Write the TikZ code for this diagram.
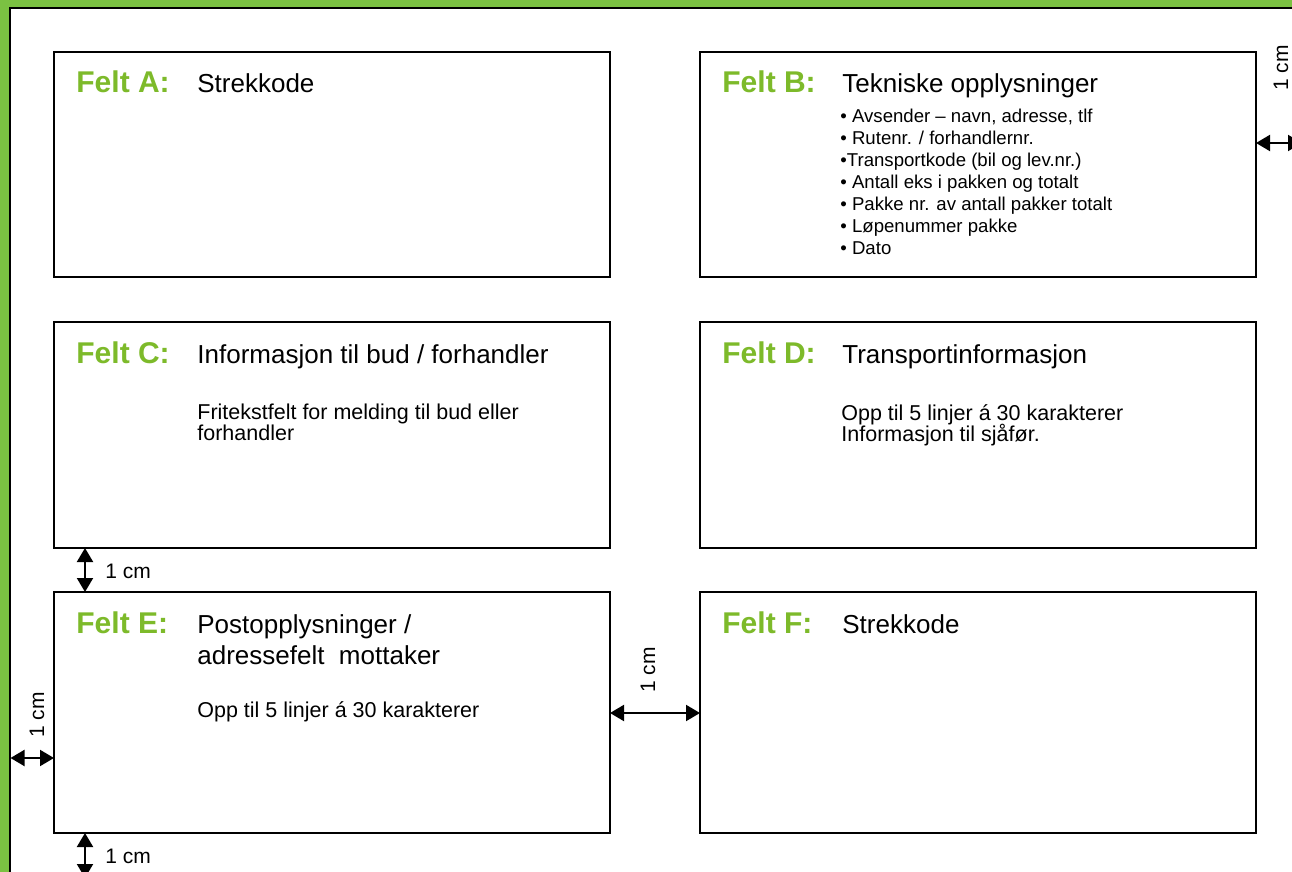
\documentclass[tikz,border=0pt]{standalone}
\usepackage{fontspec}
\setmainfont{Liberation Sans}
\usetikzlibrary{arrows.meta}
\definecolor{framegreen}{RGB}{123,193,66}
\definecolor{feltgreen}{RGB}{125,186,42}
\begin{document}
\begin{tikzpicture}[x=0.5pt,y=-0.5pt,
 box/.style={draw=black,line width=1.1pt,anchor=north west,inner sep=0pt,outer sep=0pt,minimum width=278pt},
 felt/.style={anchor=base west,inner sep=0pt,text=feltgreen,font=\fontsize{15}{18}\selectfont\bfseries},
 title/.style={anchor=base west,inner sep=0pt,font=\fontsize{13}{16}\selectfont},
 body/.style={anchor=base west,inner sep=0pt,font=\fontsize{10.75}{13}\selectfont},
 bul/.style={anchor=base west,inner sep=0pt,font=\fontsize{9.3}{11}\selectfont},
 dim/.style={line width=1pt,{Triangle[length=7pt,width=8pt]}-{Triangle[length=7pt,width=8pt]}},
 cmlab/.style={inner sep=0pt,font=\fontsize{10.5}{12}\selectfont},
]
\useasboundingbox (0,0) rectangle (1292,872);
\clip (0,0) rectangle (1292,872);
\fill[framegreen] (0,0) rectangle (1292,872);
\draw[fill=white,line width=1.1pt] (10,8) rectangle (1320,900);

% boxes
\node[box,minimum height=112.5pt] (A) at (54,52) {};
\node[box,minimum height=112.5pt] (B) at (700,52) {};
\node[box,minimum height=113pt] (C) at (54,322) {};
\node[box,minimum height=113pt] (D) at (700,322) {};
\node[box,minimum height=120.5pt] (E) at (54,592) {};
\node[box,minimum height=120.5pt] (F) at (700,592) {};

% Felt A
\node[felt] (fa) at (76,93) {Felt A:};
\node[title] (ta) at (197,93) {Strekkode};
% Felt B
\node[felt] (fb) at (722,93) {Felt B:};
\node[title] (tb) at (842,93) {Tekniske opplysninger};
\node[bul] (b1) at (840,123) {• Avsender – navn, adresse, tlf};
\node[bul] (b2) at (840,145) {• Rutenr. / forhandlernr.};
\node[bul] (b3) at (840,167) {•Transportkode (bil og lev.nr.)};
\node[bul] (b4) at (840,189) {• Antall eks i pakken og totalt};
\node[bul] (b5) at (840,211) {• Pakke nr. av antall pakker totalt};
\node[bul] (b6) at (840,233) {• Løpenummer pakke};
\node[bul] (b7) at (840,255) {• Dato};
% Felt C
\node[felt] (fc) at (76,363) {Felt C:};
\node[title] (tc) at (197,363) {Informasjon til bud / forhandler};
\node[body] (c1) at (197,419) {Fritekstfelt for melding til bud eller};
\node[body] (c2) at (197,440) {forhandler};
% Felt D
\node[felt] (fd) at (722,363) {Felt D:};
\node[title] (td) at (842,363) {Transportinformasjon};
\node[body] (d1) at (841,420) {Opp til 5 linjer á 30 karakterer};
\node[body] (d2) at (841,441) {Informasjon til sjåfør.};
% Felt E
\node[felt] (fe) at (76,633) {Felt E:};
\node[title] (te1) at (197,633) {Postopplysninger /};
\node[title] (te2) at (197,664) {adressefelt~~mottaker};
\node[body] (e1) at (197,717) {Opp til 5 linjer á 30 karakterer};
% Felt F
\node[felt] (ff) at (722,633) {Felt F:};
\node[title] (tf) at (842,633) {Strekkode};

% dimension arrows
\coordinate (rEnd) at (1302,143);
\draw[dim] (B.east |- rEnd) -- (rEnd);
\node[cmlab,rotate=90] (l1) at (1281,68) {1 cm};

\coordinate (v) at (85,570);
\draw[dim] (C.south -| v) -- (E.north -| v);
\node[cmlab,anchor=base west] (l2) at (105,578) {1 cm};

\coordinate (bEnd) at (85,878);
\draw[dim] (E.south -| bEnd) -- (bEnd);
\node[cmlab,anchor=base west] (l3) at (105,863) {1 cm};

\coordinate (lEnd) at (10.5,758);
\draw[dim] (lEnd) -- (E.west |- lEnd);
\node[cmlab,rotate=90] (l4) at (37,715) {1 cm};

\coordinate (m) at (655,713);
\draw[dim] (E.east |- m) -- (F.west |- m);
\node[cmlab,rotate=90] (l5) at (648,670) {1 cm};
\end{tikzpicture}
\end{document}
